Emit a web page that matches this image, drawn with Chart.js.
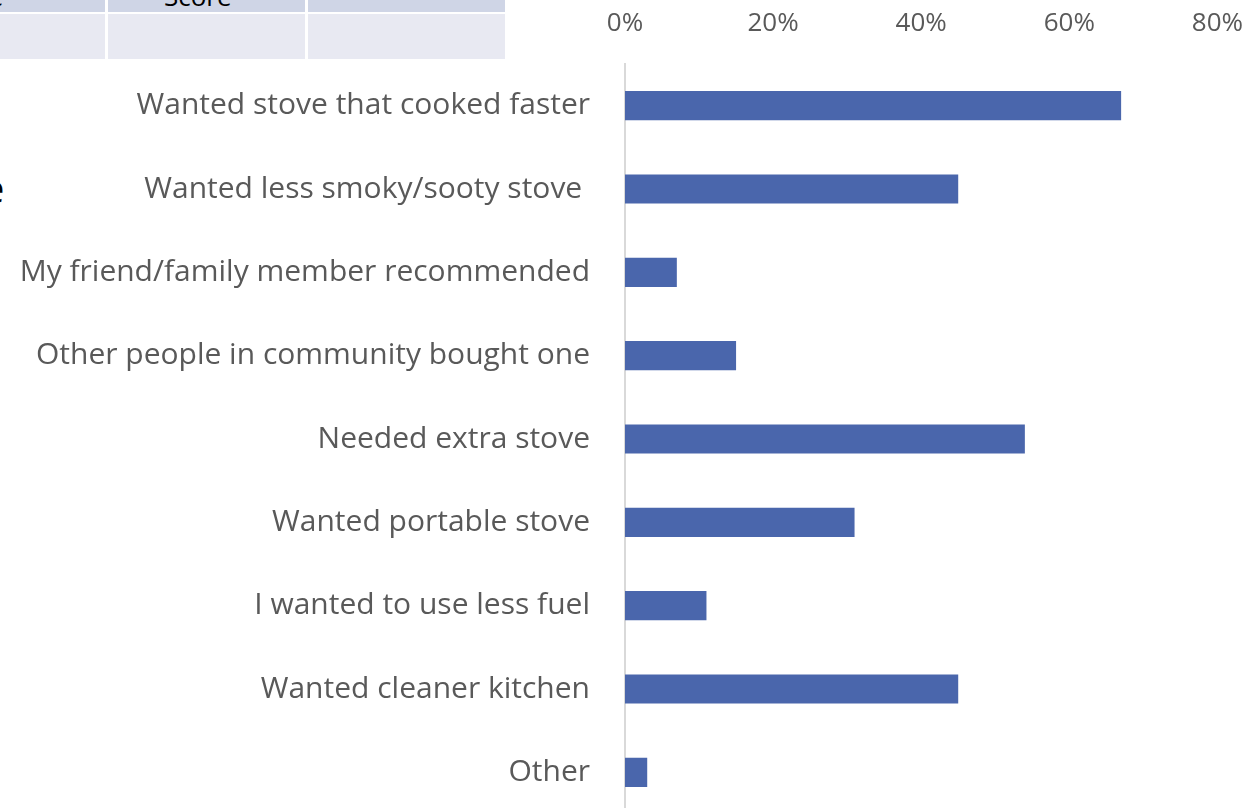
<!DOCTYPE html>
<html>
<head>
<meta charset="utf-8">
<script src="https://cdn.jsdelivr.net/npm/chart.js@4.4.1/dist/chart.umd.min.js"></script>
<style>
  html, body { margin:0; padding:0; background:#fff; overflow:hidden; width:1253px; height:808px; }
  #wrap { position:absolute; left:0; top:0; width:1253px; height:808px; overflow:hidden; }
  .cell { position:absolute; }
  .frag { position:absolute; font-family:"Open Sans", sans-serif; color:#000; white-space:nowrap; }
</style>
</head>
<body>
<div class="cell" style="left:0;top:0;width:105px;height:12px;background:#cfd5e6"></div>
<div class="cell" style="left:108px;top:0;width:197px;height:12px;background:#cfd5e6"></div>
<div class="cell" style="left:308px;top:0;width:197px;height:12px;background:#cfd5e6"></div>
<div class="cell" style="left:0;top:14px;width:105px;height:45px;background:#e8e9f2"></div>
<div class="cell" style="left:108px;top:14px;width:197px;height:45px;background:#e8e9f2"></div>
<div class="cell" style="left:308px;top:14px;width:197px;height:45px;background:#e8e9f2"></div>
<div class="frag" style="left:-22px;top:-22px;font-size:26px;">re</div>
<div class="frag" style="left:164px;top:-22px;font-size:26px;">Score</div>
<div class="frag" style="left:-18px;top:160px;font-size:40px;">e</div>
<div id="wrap"><canvas id="c" width="1260" height="859"></canvas></div>
<script>
const categories = [
  "Wanted stove that cooked faster",
  "Wanted less smoky/sooty stove ",
  "My friend/family member recommended",
  "Other people in community bought one",
  "Needed extra stove",
  "Wanted portable stove",
  "I wanted to use less fuel",
  "Wanted cleaner kitchen",
  "Other"
];
const values = [67, 45, 7, 15, 54, 31, 11, 45, 3];
const xTicks = [0, 20, 40, 60, 80];

new Chart(document.getElementById('c'), {
  type: 'bar',
  data: {
    labels: categories,
    datasets: [{
      data: values,
      backgroundColor: '#4a66ac',
      borderWidth: 0,
      categoryPercentage: 1,
      barPercentage: 0.35
    }]
  },
  options: {
    indexAxis: 'y',
    responsive: false,
    animation: false,
    layout: { padding: 0 },
    plugins: { legend: { display: false }, tooltip: { enabled: false } },
    scales: {
      x: {
        position: 'top',
        min: 0, max: 80,
        afterBuildTicks: (s) => { s.ticks = xTicks.map(v => ({ value: v })); },
        ticks: {
          callback: (v) => v + '%',
          color: '#595959',
          font: { family: 'Open Sans', size: 26 },
          padding: 17
        },
        grid: { display: false },
        border: { display: false },
        afterFit: (s) => { s.height = 64; }
      },
      y: {
        ticks: {
          color: '#595959',
          font: { family: 'Open Sans', size: 30 },
          padding: 27,
          autoSkip: false
        },
        grid: { display: false },
        border: { display: true, color: '#d9d9d9', width: 2 },
        afterFit: (s) => { s.width = 625; }
      }
    }
  }
});
</script>
</body>
</html>
